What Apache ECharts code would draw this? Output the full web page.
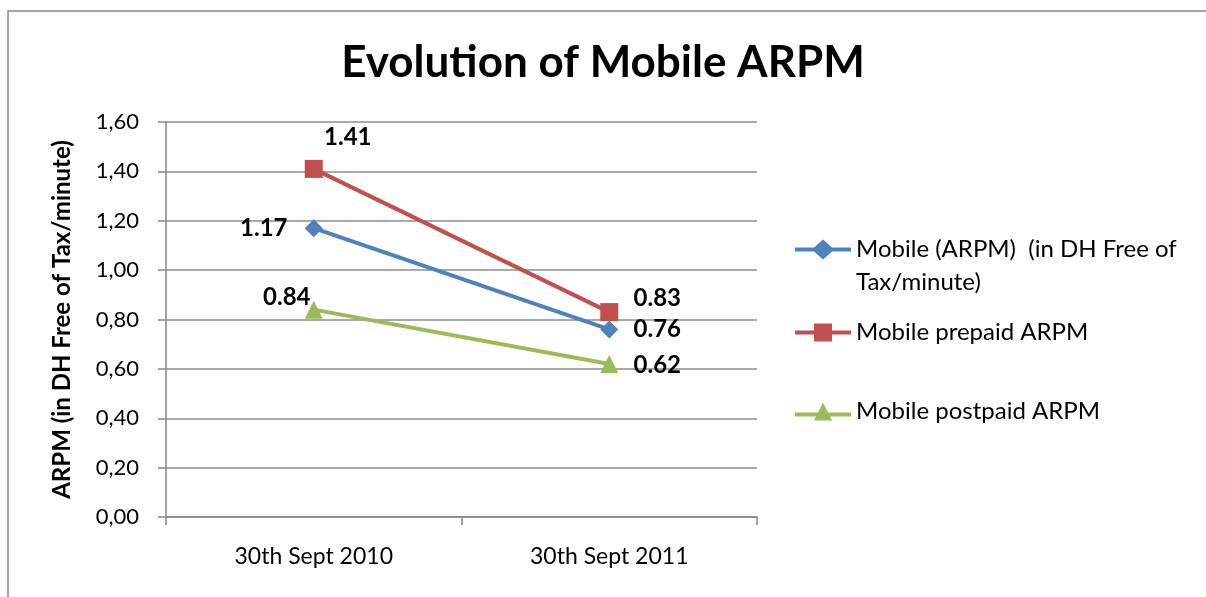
<!DOCTYPE html>
<html>
<head>
<meta charset="utf-8">
<script src="https://cdn.jsdelivr.net/npm/echarts@6/dist/echarts.min.js"></script>
<style>html,body{margin:0;padding:0;background:#fff}#c{width:1206px;height:597px}</style>
</head>
<body>
<div id="c"></div>
<script>
const categories = ['30th Sept 2010', '30th Sept 2011'];
const seriesNames = ['Mobile (ARPM)  (in DH Free of Tax/minute)', 'Mobile prepaid ARPM', 'Mobile postpaid ARPM'];
const mobileARPM = [1.17, 0.76];
const prepaidARPM = [1.41, 0.83];
const postpaidARPM = [0.84, 0.62];
const yTicks = { min: 0, max: 1.6, interval: 0.2 };

const FONT = 'Lato, "Open Sans", sans-serif';
const colors = ['#4F81BD', '#C0504D', '#9BBB59'];
const symbols = ['diamond', 'rect', 'triangle'];
const symbolSizes = [18, 18, 18];
// legend icons: line + marker
const legendIcons = [
  'path://M0,8H19L28,0L37,8H56V12H37L28,20L19,12H0Z',
  'path://M0,7H19V0H37V7H56V11H37V18H19V11H0Z',
  'path://M0,10H23L28,0L33,10H56V14H35L37,18H19L21,14H0Z'
];
const legendIconHeights = [20, 18, 18];
// label offsets (style only)
const labelOffsets = [
  [[-50, 0], [48, 0]],
  [[34, -32], [48, -14]],
  [[-27, -12], [48, 1]]
];
const seriesData = [mobileARPM, prepaidARPM, postpaidARPM];

const chart = echarts.init(document.getElementById('c'));
const series = seriesData.map((vals, i) => ({
  name: seriesNames[i],
  type: 'line',
  data: vals.map((v, j) => ({
    value: v,
    label: { offset: labelOffsets[i][j] }
  })),
  symbol: symbols[i],
  symbolSize: symbolSizes[i],
  lineStyle: { color: colors[i], width: 4 },
  itemStyle: { color: colors[i] },
  label: {
    show: true,
    position: 'inside',
    fontFamily: FONT,
    fontWeight: 'bold',
    fontSize: 24,
    color: '#000',
    formatter: p => p.value.toFixed(2)
  },
  z: 3 + i
}));

const legendBase = {
  orient: 'vertical',
  left: 795,
  padding: 0,
  itemWidth: 56,
  itemGap: 0,
  textStyle: { fontFamily: FONT, fontSize: 24, color: '#000', lineHeight: 33 }
};

chart.setOption({
  animation: false,
  backgroundColor: '#fff',
  title: {
    text: 'Evolution of Mobile ARPM',
    left: 'center',
    top: 36,
    textStyle: { fontFamily: FONT, fontWeight: 'bold', fontSize: 44, color: '#000' }
  },
  legend: [
    Object.assign({}, legendBase, {
      top: 200,
      icon: legendIcons[0],
      itemHeight: legendIconHeights[0],
      data: [seriesNames[0]],
      formatter: () => ' \nMobile (ARPM)  (in DH Free of\nTax/minute)'
    }),
    Object.assign({}, legendBase, { top: 316, icon: legendIcons[1], itemHeight: legendIconHeights[1], data: [seriesNames[1]] }),
    Object.assign({}, legendBase, { top: 395, icon: legendIcons[2], itemHeight: legendIconHeights[2], data: [seriesNames[2]] })
  ],
  grid: { left: 166, top: 122, right: 449, bottom: 80, containLabel: false },
  xAxis: {
    type: 'category',
    data: categories,
    boundaryGap: true,
    axisLine: { lineStyle: { color: '#868686', width: 1.5 } },
    axisTick: { show: true, length: 8, lineStyle: { color: '#868686', width: 1.5 } },
    axisLabel: { fontFamily: FONT, fontSize: 23, color: '#000', margin: 28 }
  },
  yAxis: {
    type: 'value',
    min: yTicks.min,
    max: yTicks.max,
    interval: yTicks.interval,
    name: 'ARPM (in DH Free of Tax/minute)',
    nameLocation: 'middle',
    nameRotate: 90,
    nameGap: 92,
    nameTextStyle: { fontFamily: FONT, fontWeight: 'bold', fontSize: 24, color: '#000' },
    axisLine: { show: true, lineStyle: { color: '#868686', width: 1.5 } },
    axisTick: { show: true, length: 8, lineStyle: { color: '#868686', width: 1.5 } },
    splitLine: { lineStyle: { color: '#8c8c8c', width: 1.5 } },
    axisLabel: {
      fontFamily: FONT, fontSize: 22, color: '#000', margin: 27,
      formatter: v => v.toFixed(2).replace('.', ',')
    }
  },
  graphic: [{
    type: 'rect',
    shape: { x: 8, y: 11, width: 1230, height: 620 },
    style: { fill: null, stroke: '#888', lineWidth: 1.5 },
    silent: true
  }],
  series: series
});
</script>
</body>
</html>
